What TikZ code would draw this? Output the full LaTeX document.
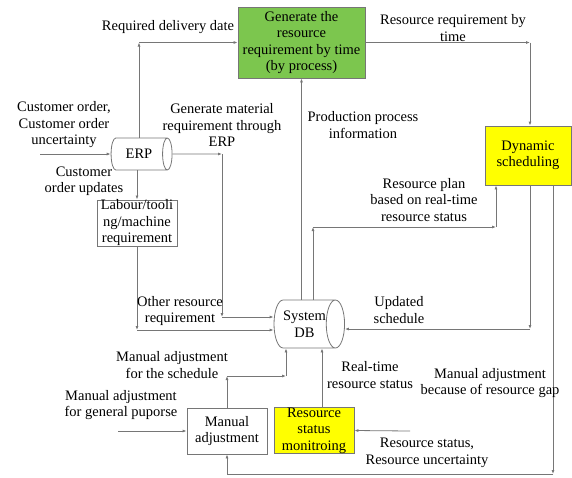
\documentclass[tikz,border=0pt]{standalone}
\usepackage{fontspec}
\setmainfont{Liberation Serif}
\usetikzlibrary{shapes.geometric,arrows.meta}
\definecolor{linegray}{RGB}{118,118,118}
\definecolor{procgreen}{RGB}{124,198,78}
\definecolor{procyellow}{RGB}{255,255,0}
\tikzset{
	flow/.style={draw=linegray, line width=0.8pt, -{Latex[length=4pt,width=3pt]}},
	plain/.style={draw=linegray, line width=0.8pt},
	box/.style={draw=linegray, line width=0.8pt, align=center, inner sep=0pt},
	db/.style={cylinder, draw=linegray, line width=0.8pt, align=center, shape aspect=1.0, inner sep=0pt},
	lbl/.style={align=center, inner sep=0pt}
}
\begin{document}
\begin{tikzpicture}[x=1pt,y=1pt,yscale=-1,font=\fontsize{14.5}{16.5}\selectfont]
		\useasboundingbox (0,0) rectangle (572,477);
		
		%Shapes
		\node [box, fill=procgreen, minimum width=127pt, minimum height=71pt] (Gen) at (301.5,42.5) {Generate the\\resource\\requirement by time\\(by process)};
		\node [db, minimum width=32pt, minimum height=61pt] (ERP) at (139,154) {ERP};
		\node [box, minimum width=80pt, minimum height=46pt] (Lab) at (137,223) {Labour/tooli\\ng/machine\\requirement};
		\node [box, fill=procyellow, minimum width=86pt, minimum height=59pt] (Dyn) at (528,155.5) {Dynamic\\scheduling};
		\node [db, minimum width=48pt, minimum height=61pt, shape aspect=0.7] (DB) at (304.5,324) {System\\DB};
		\node [box, minimum width=80pt, minimum height=46pt] (Man) at (227,431) {Manual\\adjustment};
		\node [box, fill=procyellow, minimum width=80pt, minimum height=45pt] (Res) at (314,430.5) {Resource\\status\\monitroing};
		
		%Corners and free ends
		\coordinate (c1) at (ERP.north |- Gen.west);
		\coordinate (c2) at (530,42.5);
		\coordinate (c3) at (222,154);
		\coordinate (c4) at (222,317);
		\coordinate (c5) at (137,330);
		\coordinate (c6) at (313,227);
		\coordinate (c7) at (496,227);
		\coordinate (c8) at (530,329);
		\coordinate (c9) at (553,474);
		\coordinate (c10) at (227,474);
		\coordinate (c11) at (227,376);
		\coordinate (c12) at (286,376);
		\coordinate (in1) at (40,154);
		\coordinate (in2) at (118,431);
		\coordinate (in3) at (410,431);
		
		%Straight Lines
		\draw [flow] (ERP.north) -- (c1);
		\draw [flow] (c1) -- (Gen.west);
		\draw [flow] (Gen.east) -- (c2);
		\draw [flow] (c2) -- (c2 |- Dyn.north);
		\draw [flow] (in1) -- (ERP.west);
		\draw [flow] (ERP.east) -- (c3);
		\draw [flow] (c3) -- (c4);
		\draw [flow] (c4) -- (c4 -| DB.west);
		\draw [flow] (Lab.north |- ERP.south) -- (Lab.north);
		\draw [flow] (Lab.south) -- (c5);
		\draw [flow] (c5) -- (c5 -| DB.west);
		\draw [flow] (Gen.south |- DB.north) -- (Gen.south);
		\draw [flow] (c6 |- DB.north) -- (c6);
		\draw [flow] (c6) -- (c7);
		\draw [flow] (c7) -- (c7 |- Dyn.south);
		\draw [flow] (c8 |- Dyn.south) -- (c8);
		\draw [flow] (c8) -- (c8 -| DB.east);
		\draw [flow] (c9 |- Dyn.south) -- (c9);
		\draw [plain] (c9) -- (c10);
		\draw [flow] (c10) -- (Man.south);
		\draw [flow] (Man.north) -- (c11);
		\draw [flow] (c11) -- (c12);
		\draw [flow] (c12) -- (c12 |- DB.south);
		\draw [flow] ([xshift=8pt]Res.north) -- ([xshift=8pt]Res.north |- DB.south);
		\draw [flow] (in2) -- (Man.west);
		\draw [flow] (in3) -- (Res.east);
		
		% Text Node
		\node [lbl] (t1) at (168,27) {Required delivery date};
		\node [lbl] (t2) at (453,28) {Resource requirement by\\time};
		\node [lbl] (t3) at (64,125) {Customer order,\\Customer order\\uncertainty};
		\node [lbl] (t4) at (222,125) {Generate material\\requirement through\\ERP};
		\node [lbl] (t5) at (84,181) {Customer\\order updates};
		\node [lbl] (t6) at (363,125) {Production process\\information};
		\node [lbl] (t7) at (424,200) {Resource plan\\based on real-time\\resource status};
		\node [lbl] (t8) at (180,311) {Other resource\\requirement};
		\node [lbl] (t9) at (399,310) {Updated\\schedule};
		\node [lbl] (t10) at (172,365) {Manual adjustment\\for the schedule};
		\node [lbl] (t11) at (370,375) {Real-time\\resource status};
		\node [lbl] (t12) at (490,383) {Manual adjustment\\because of resource gap};
		\node [lbl] (t13) at (121,405) {Manual adjustment\\for general puporse};
		\node [lbl] (t14) at (427,453) {Resource status,\\Resource uncertainty};
\end{tikzpicture}
\end{document}
